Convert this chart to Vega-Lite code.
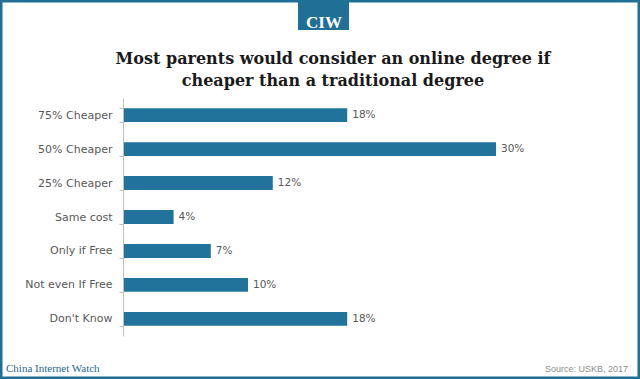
{
  "$schema": "https://vega.github.io/schema/vega-lite/v6.json",
  "width": 640,
  "height": 379,
  "autosize": "none",
  "padding": 0,
  "background": "white",
  "config": {"view": {"stroke": "#1f6f96", "strokeWidth": 5}},
  "title": {
    "text": ["Most parents would consider an online degree if", "cheaper than a traditional degree"],
    "anchor": "middle",
    "frame": "group",
    "orient": "top",
    "offset": -108,
    "baseline": "alphabetic",
    "dx": 13,
    "font": "DejaVu Serif",
    "fontSize": 16,
    "fontWeight": "bold",
    "color": "#1a1a1a",
    "lineHeight": 22
  },
  "layer": [
    {
      "data": {"name": "main", "values": [
        {"category": "75% Cheaper", "share": 0.18},
        {"category": "50% Cheaper", "share": 0.30},
        {"category": "25% Cheaper", "share": 0.12},
        {"category": "Same cost", "share": 0.04},
        {"category": "Only if Free", "share": 0.07},
        {"category": "Not even If Free", "share": 0.10},
        {"category": "Don't Know", "share": 0.18}
      ]},
      "layer": [
        {
          "mark": {"type": "bar", "color": "#21739b"},
          "encoding": {
            "y": {"field": "category", "type": "nominal", "sort": null,
              "scale": {"range": [98, 336], "paddingInner": 0.59, "paddingOuter": 0.3},
              "axis": {"title": null, "orient": "left", "offset": -123, "domainColor": "#bfbfbf", "tickColor": "#bfbfbf", "tickSize": 4, "tickBand": "extent", "labelFont": "DejaVu Sans", "labelFontSize": 11, "labelColor": "#595959", "labelPadding": 7}},
            "x": {"field": "share", "type": "quantitative", "scale": {"domain": [0, 0.3], "range": [124, 496]}, "axis": null}
          }
        },
        {
          "mark": {"type": "text", "align": "left", "baseline": "middle", "dx": 5, "font": "DejaVu Sans", "fontSize": 10.5, "color": "#595959"},
          "encoding": {
            "y": {"field": "category", "type": "nominal", "sort": null},
            "x": {"field": "share", "type": "quantitative"},
            "text": {"field": "share", "type": "quantitative", "format": ".0%"}
          }
        }
      ]
    },
    {
      "data": {"values": [{"logo": "CIW"}]},
      "layer": [
        {"mark": {"type": "rect", "color": "#1f6f96", "x": 298, "x2": 349, "y": 2, "y2": 30}, "encoding": {}},
        {"mark": {"type": "text", "x": 324, "y": 23, "align": "center", "font": "Liberation Serif", "fontWeight": "bold", "fontSize": 17, "color": "white"}, "encoding": {"text": {"field": "logo"}}}
      ]
    },
    {
      "data": {"values": [{"brand": "China Internet Watch", "source": "Source: USKB, 2017"}]},
      "layer": [
        {"mark": {"type": "text", "x": 6, "y": 369, "align": "left", "font": "Liberation Serif", "fontSize": 11, "color": "#1f6a94"}, "encoding": {"text": {"field": "brand"}}},
        {"mark": {"type": "text", "x": 628, "y": 369, "align": "right", "font": "Liberation Sans", "fontSize": 9, "color": "#8c8c8c"}, "encoding": {"text": {"field": "source"}}}
      ]
    }
  ]
}
